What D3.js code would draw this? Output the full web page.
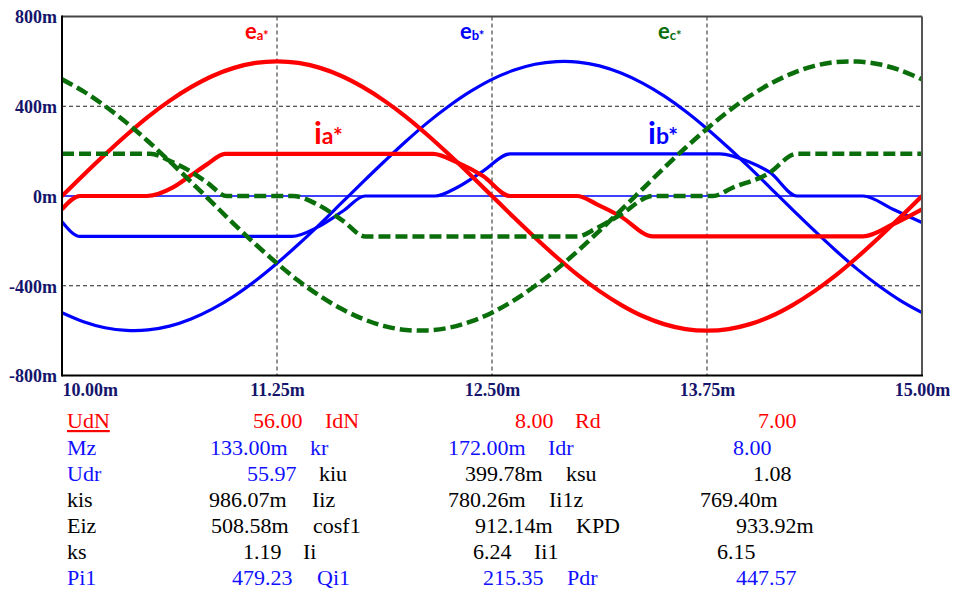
<!DOCTYPE html>
<html><head><meta charset="utf-8">
<script src="https://cdn.jsdelivr.net/npm/d3@7"></script>
<style>
html,body{margin:0;padding:0;background:#fff;}
svg{display:block;}
.serif{font-family:"Liberation Serif","Times New Roman",Times,"DejaVu Serif",serif;}
.sans{font-family:Lato,"Open Sans","Noto Sans",sans-serif;}
</style></head>
<body>
<svg id="chart" width="953" height="591"></svg>
<script>
// ---------------- DATA ----------------
// time axis (ms) for the source voltages
const tEmf = [10.000,10.125,10.250,10.375,10.500,10.625,10.750,10.875,11.000,11.125,11.250,11.375,11.500,11.625,11.750,11.875,12.000,12.125,12.250,12.375,12.500,12.625,12.750,12.875,13.000,13.125,13.250,13.375,13.500,13.625,13.750,13.875,14.000,14.125,14.250,14.375,14.500,14.625,14.750,14.875,15.000];
// source voltages (m units)
const ea = [0,94,185,272,353,424,485,535,571,593,600,593,571,535,485,424,353,272,185,94,0,-94,-185,-272,-353,-424,-485,-535,-571,-593,-600,-593,-571,-535,-485,-424,-353,-272,-185,-94,0];
const eb = [-520,-560,-587,-599,-597,-580,-548,-503,-446,-378,-300,-215,-125,-31,63,155,244,327,401,466,520,560,587,599,597,580,548,503,446,378,300,215,125,31,-63,-155,-244,-327,-401,-466,-520];
const ec = [520,466,401,327,244,155,63,-31,-125,-215,-300,-378,-446,-503,-548,-580,-597,-599,-587,-560,-520,-466,-401,-327,-244,-155,-63,31,125,215,300,378,446,503,548,580,597,599,587,560,520];
// phase currents (breakpoints)
const tIa = [10.000,10.105,10.494,10.645,10.744,10.843,10.948,12.157,12.297,12.448,12.605,12.994,13.110,13.244,13.436,14.657,14.831,15.000];
const ia  = [-59,0,0,38,89,141,188,188,150,89,0,0,-37,-89,-180,-180,-126,-59];
const tIb = [10.000,10.105,11.337,11.483,11.634,11.762,12.169,12.297,12.448,12.605,13.826,14.000,14.116,14.273,14.657,14.831,15.000];
const ib  = [-115,-180,-180,-140,-67,0,0,38,111,188,188,150,105,0,0,-59,-118];
const tIc = [10.000,10.512,10.645,10.744,10.843,10.959,11.343,11.483,11.634,11.762,12.994,13.110,13.244,13.436,13.785,13.901,14.099,14.273,15.000];
const ic  = [188,188,150,111,60,0,0,-37,-111,-180,-180,-143,-85,0,0,38,96,188,188];

// axis ticks
const xTicks = [10, 11.25, 12.5, 13.75, 15];
const xTickLabels = ["10.00m","11.25m","12.50m","13.75m","15.00m"];
const yTicks = [800, 400, 0, -400, -800];
const yTickLabels = ["800m","400m","0m","-400m","-800m"];

// curve annotations: [main, sub, t, value, series]
const curveLabels = [
  ["e","a*",11.064,701,"a"],
  ["e","b*",12.314,701,"b"],
  ["e","c*",13.465,701,"c"]
];
const currentLabels = [
  ["i","a*",11.465,230,"a"],
  ["i","b*",13.407,230,"b"]
];

// parameter table
const tableLabels = [["UdN","IdN","Rd"],["Mz","kr","Idr"],["Udr","kiu","ksu"],["kis","Iiz","Ii1z"],["Eiz","cosf1","KPD"],["ks","Ii","Ii1"],["Pi1","Qi1","Pdr"]];
const tableValues = [["56.00","8.00","7.00"],["133.00m","172.00m","8.00"],["55.97","399.78m","1.08"],["986.07m","780.26m","769.40m"],["508.58m","912.14m","933.92m"],["1.19","6.24","6.15"],["479.23","215.35","447.57"]];
// colour class per cell: r=red, b=blue, k=black  [lab1,val1,lab2,val2,lab3,val3]
const tableColors = [
  ["r","r","r","r","r","r"],
  ["b","b","b","b","b","b"],
  ["b","b","k","k","k","k"],
  ["k","k","k","k","k","k"],
  ["k","k","k","k","k","k"],
  ["k","k","k","k","k","k"],
  ["b","b","b","b","b","b"]
];

// ---------------- LAYOUT / STYLE ----------------
const plot = {left:62, right:922, top:16.5, bottom:375.5};
const colour = {a:"#ff0000", b:"#0000ff", c:"#0a6e0a"};
const textColour = {r:"#ff0000", b:"#1010ff", k:"#000000"};
const axisColour = "#15156b";
const rowBaselines = [428,454.5,481,507,533,559,585];
const tableLabelX = [[67,325,575],[67,310,548],[67,319,566],[67,312,549],[67,313,576],[67,303,534],[67,317,567]];
const tableValueX = [[253,515,758],[210,448,733],[247,465,753],[209,448,700],[211,475,736],[243,473,717],[232,483,736]];

const svg = d3.select("#chart");
const x = d3.scaleLinear().domain([10,15]).range([plot.left, plot.right]);
const y = d3.scaleLinear().domain([-800,800]).range([plot.bottom, plot.top]);

// grid
const g = svg.append("g");
g.selectAll("line.vg").data(xTicks.slice(1,-1)).join("line")
  .attr("x1",d=>x(d)).attr("x2",d=>x(d)).attr("y1",plot.top).attr("y2",plot.bottom)
  .attr("stroke","#222").attr("stroke-width",1).attr("stroke-dasharray","4,3");
g.selectAll("line.hg").data(yTicks.filter(d=>d!==0 && Math.abs(d)!==800)).join("line")
  .attr("x1",plot.left).attr("x2",plot.right).attr("y1",d=>y(d)).attr("y2",d=>y(d))
  .attr("stroke","#222").attr("stroke-width",1).attr("stroke-dasharray","4,3");
// zero line
g.append("line").attr("x1",plot.left).attr("x2",plot.right).attr("y1",y(0)).attr("y2",y(0))
  .attr("stroke","#0000ff").attr("stroke-width",1.3);

// lines
svg.append("clipPath").attr("id","clip").append("rect")
  .attr("x",plot.left).attr("y",plot.top).attr("width",plot.right-plot.left).attr("height",plot.bottom-plot.top);
const lines = svg.append("g").attr("clip-path","url(#clip)");
const smooth = d3.line().x(d=>x(d[0])).y(d=>y(d[1])).curve(d3.curveCatmullRom);
const mono = d3.line().x(d=>x(d[0])).y(d=>y(d[1])).curve(d3.curveMonotoneX);
const zip = (t,v)=>t.map((tt,i)=>[tt,v[i]]);

const series = [
  {pts:zip(tEmf,eb), gen:smooth, col:colour.b, w:3.2, dash:null},
  {pts:zip(tIb,ib),  gen:mono,   col:colour.b, w:3.2, dash:null},
  {pts:zip(tEmf,ea), gen:smooth, col:colour.a, w:4.2, dash:null},
  {pts:zip(tIa,ia),  gen:mono,   col:colour.a, w:4.2, dash:null},
  {pts:zip(tEmf,ec), gen:smooth, col:colour.c, w:4.5, dash:"12,5"},
  {pts:zip(tIc,ic),  gen:mono,   col:colour.c, w:4.5, dash:"12,5"}
];
lines.selectAll("path").data(series).join("path")
  .attr("d",d=>d.gen(d.pts)).attr("fill","none")
  .attr("stroke",d=>d.col).attr("stroke-width",d=>d.w)
  .attr("stroke-dasharray",d=>d.dash)
  .attr("stroke-linejoin","round");

// frame
svg.append("line").attr("x1",plot.left).attr("x2",plot.right).attr("y1",plot.top).attr("y2",plot.top).attr("stroke","#444").attr("stroke-width",2);
svg.append("line").attr("x1",plot.right).attr("x2",plot.right).attr("y1",plot.top).attr("y2",plot.bottom).attr("stroke","#555").attr("stroke-width",2);
svg.append("line").attr("x1",plot.left).attr("x2",plot.left).attr("y1",plot.top-1).attr("y2",plot.bottom+1).attr("stroke","#000").attr("stroke-width",2);
svg.append("line").attr("x1",plot.left).attr("x2",plot.right+1).attr("y1",plot.bottom).attr("y2",plot.bottom).attr("stroke","#000").attr("stroke-width",2);

// axes
const yAxis = d3.axisLeft(y).tickValues(yTicks).tickSize(0).tickPadding(5)
  .tickFormat((d,i)=>yTickLabels[i]);
const ya = svg.append("g").attr("transform",`translate(${plot.left},0)`).call(yAxis)
  .attr("font-family",null).attr("font-size",null).attr("class","serif");
ya.select(".domain").remove();
ya.selectAll("text").style("font-weight","bold").style("font-size","18px").attr("fill",axisColour).attr("dy","0.36em");

const xAxis = d3.axisBottom(x).tickValues(xTicks).tickSize(0).tickPadding(8)
  .tickFormat((d,i)=>xTickLabels[i]);
const xa = svg.append("g").attr("transform",`translate(0,${plot.bottom})`).call(xAxis)
  .attr("font-family",null).attr("font-size",null).attr("class","serif");
xa.select(".domain").remove();
xa.selectAll("text").style("font-weight","bold").style("font-size","18px").attr("fill",axisColour)
  .attr("text-anchor",(d,i)=>i===0?"start":"middle");

// curve labels
const lab = svg.append("g").attr("class","sans").style("font-weight","bold");
curveLabels.forEach(([m,s,t,v,k])=>{
  const tx = lab.append("text").attr("x",x(t)).attr("y",y(v)).attr("fill",colour[k]);
  tx.append("tspan").style("font-size","22px").text(m);
  tx.append("tspan").style("font-size","13px").attr("dy",1).text(s);
});
currentLabels.forEach(([m,s,t,v,k])=>{
  const tx = lab.append("text").attr("x",x(t)).attr("y",y(v)).attr("fill",colour[k]);
  tx.append("tspan").style("font-size","31px").text(m);
  tx.append("tspan").style("font-size","23px").text(s);
});

// table
const tb = svg.append("g").attr("class","serif").style("font-size","22px");
tableLabels.forEach((row,r)=>{
  row.forEach((l,c)=>{
    tb.append("text").attr("x",tableLabelX[r][c]).attr("y",rowBaselines[r])
      .attr("fill",textColour[tableColors[r][2*c]]).text(l)
      .style("text-decoration", (r===0&&c===0)?"underline":null);
    tb.append("text").attr("x",tableValueX[r][c]).attr("y",rowBaselines[r])
      .attr("fill",textColour[tableColors[r][2*c+1]]).text(tableValues[r][c]);
  });
});
</script>
</body></html>
